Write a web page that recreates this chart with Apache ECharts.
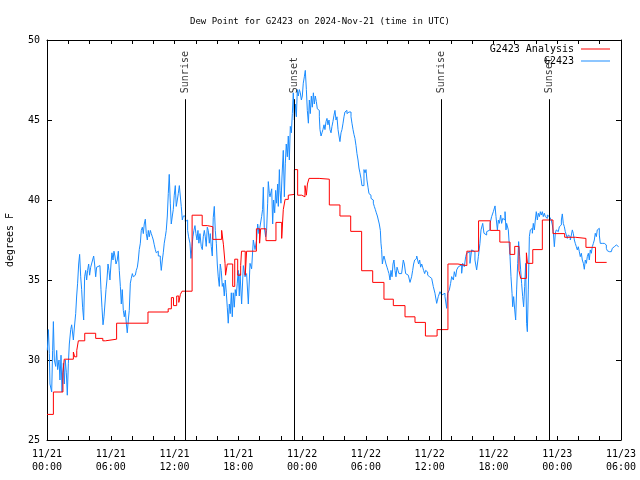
<!DOCTYPE html>
<html>
<head>
<meta charset="utf-8">
<script src="https://cdn.jsdelivr.net/npm/echarts@6/dist/echarts.min.js"></script>
<style>html,body{margin:0;padding:0;background:#fff}#c{width:640px;height:480px}</style>
</head>
<body>
<div id="c"></div>
<script>
// ---- data (hours since 2024-11-21 00:00 UTC, degrees F) ----
const titleText = 'Dew Point for G2423 on 2024-Nov-21 (time in UTC)';
const analysisName = 'G2423 Analysis';
const stationName = 'G2423';
const xTickHours = [0, 6, 12, 18, 24, 30, 36, 42, 48, 54];
const xTickLabels = ['11/21\n00:00','11/21\n06:00','11/21\n12:00','11/21\n18:00','11/22\n00:00','11/22\n06:00','11/22\n12:00','11/22\n18:00','11/23\n00:00','11/23\n06:00'];
const yTicks = [25, 30, 35, 40, 45, 50];
const sunTimes = [13.05, 23.27, 37.1, 47.26];
const sunLabels = ['Sunrise', 'Sunset', 'Sunrise', 'Sunset'];
const sunLineTop = 46.3;

const analysisPoints = [[0,26.6],[0.6,28.0],[1.5,29.2],[1.62,30.05],[2.48,30.5],[2.6,30.2],[2.8,30.6],[2.95,31.2],[3.55,31.67],[4.58,31.35],[5.25,31.2],[5.5,31.3],[6.55,32.3],[9.5,33.0],[11.4,33.2],[11.7,33.9],[11.9,33.4],[12.2,34.0],[12.4,33.6],[12.55,34.1],[12.7,34.3],[13.65,39.05],[14.6,38.4],[15.08,38.33],[15.6,37.54],[16.43,38.1],[16.6,37.2],[16.75,36.04],[16.8,35.3],[16.96,36.0],[17.47,34.6],[17.66,36.3],[17.94,35.3],[18.22,35.9],[18.3,36.8],[18.65,35.3],[18.78,36.8],[19.7,38.2],[20.0,37.3],[20.1,38.2],[20.6,37.46],[21.54,38.6],[22.08,37.6],[22.23,39.4],[22.4,40.04],[22.7,40.3],[22.86,40.35],[23.27,41.9],[23.58,40.3],[23.96,40.2],[24.27,40.9],[24.4,40.3],[24.5,41.0],[24.65,41.35],[25.6,41.3],[26.56,39.69],[27.56,39.0],[28.57,38.04],[29.6,35.58],[30.64,34.85],[31.7,33.8],[32.58,33.4],[33.68,32.7],[34.62,32.35],[35.6,31.5],[36.7,31.9],[37.72,36.0],[38.66,35.9],[39.5,36.8],[40.6,38.7],[41.7,38.1],[42.6,37.37],[43.56,36.6],[44.0,37.1],[44.4,35.6],[44.56,35.1],[45.1,36.7],[45.2,36.04],[45.7,36.9],[46.6,38.75],[47.6,37.9],[48.7,37.67],[49.7,37.6],[50.7,37.04],[51.6,36.1],[52.65,36.1]];

const stationPoints = [[0.03,30.6],[0.13,31.9],[0.22,30.4],[0.28,28.5],[0.44,28.0],[0.53,30.6],[0.6,32.4],[0.69,30.0],[0.82,29.6],[0.91,30.6],[1.0,29.4],[1.13,30.0],[1.22,28.75],[1.32,30.3],[1.41,28.0],[1.54,29.8],[1.63,28.5],[1.72,30.0],[1.82,29.2],[1.91,27.8],[2.01,29.8],[2.1,31.0],[2.23,31.9],[2.32,32.2],[2.48,31.25],[2.57,32.0],[2.7,32.9],[2.79,34.0],[2.88,34.8],[2.98,36.0],[3.07,36.6],[3.17,35.2],[3.26,34.4],[3.35,33.3],[3.45,32.5],[3.54,35.2],[3.64,35.6],[3.73,35.0],[3.82,35.6],[3.92,36.0],[4.01,35.3],[4.11,35.8],[4.2,35.8],[4.29,36.25],[4.39,36.5],[4.48,36.0],[4.58,35.2],[4.67,35.8],[4.83,35.9],[4.98,35.8],[5.08,34.4],[5.17,33.3],[5.27,32.2],[5.36,32.7],[5.45,33.5],[5.55,34.4],[5.64,35.0],[5.74,36.0],[5.83,35.6],[5.92,35.0],[6.02,36.0],[6.11,36.7],[6.21,36.25],[6.3,36.8],[6.39,36.5],[6.49,36.0],[6.61,36.25],[6.71,36.8],[6.8,35.6],[6.9,34.6],[6.99,33.5],[7.08,34.4],[7.18,33.1],[7.27,32.7],[7.37,33.1],[7.46,32.3],[7.55,31.7],[7.65,32.5],[7.74,33.1],[7.84,34.8],[7.93,35.1],[8.03,35.4],[8.12,35.2],[8.21,35.3],[8.31,35.2],[8.4,35.6],[8.5,35.8],[8.59,36.25],[8.68,36.9],[8.78,37.3],[8.87,38.1],[8.97,38.3],[9.06,37.9],[9.15,38.5],[9.25,38.8],[9.34,37.9],[9.44,37.5],[9.53,38.1],[9.62,37.7],[9.72,38.1],[9.81,37.9],[9.91,37.7],[10.0,37.5],[10.09,37.2],[10.19,36.9],[10.28,36.7],[10.38,36.8],[10.47,36.5],[10.56,36.5],[10.66,36.25],[10.75,35.6],[10.85,36.25],[10.94,36.7],[11.03,37.3],[11.13,37.7],[11.22,38.1],[11.32,39.0],[11.41,40.4],[11.5,41.6],[11.6,39.8],[11.69,38.5],[11.79,39.0],[11.88,39.4],[11.97,40.3],[12.07,40.9],[12.16,39.6],[12.26,40.0],[12.35,40.4],[12.45,40.9],[12.54,40.8],[12.63,39.6],[12.73,38.75],[12.82,39.0],[12.92,39.0],[13.01,38.65],[13.13,38.75],[13.23,38.1],[13.32,37.7],[13.45,37.3],[13.54,36.35],[13.64,37.1],[13.73,37.7],[13.82,38.1],[13.92,38.4],[14.01,37.9],[14.11,37.5],[14.2,38.1],[14.29,37.3],[14.39,37.9],[14.51,37.1],[14.61,36.9],[14.7,37.7],[14.8,38.1],[14.89,37.7],[14.98,37.1],[15.08,38.3],[15.17,38.1],[15.27,37.3],[15.36,37.9],[15.45,37.1],[15.55,36.5],[15.64,38.9],[15.74,39.6],[15.83,38.1],[15.93,37.3],[16.02,36.0],[16.11,35.2],[16.21,34.6],[16.3,36.0],[16.39,35.6],[16.49,34.6],[16.58,34.8],[16.68,34.0],[16.77,35.0],[16.87,34.2],[16.96,33.3],[17.05,32.3],[17.15,33.5],[17.24,32.9],[17.34,34.2],[17.43,32.7],[17.52,34.2],[17.62,33.3],[17.71,34.4],[17.8,34.0],[17.9,34.8],[17.99,35.6],[18.09,34.0],[18.16,35.4],[18.31,33.5],[18.47,35.9],[18.63,35.2],[18.78,35.4],[18.94,33.5],[19.1,36.04],[19.25,35.7],[19.41,37.5],[19.57,36.9],[19.72,37.5],[19.82,38.5],[19.94,37.9],[20.03,38.3],[20.19,38.96],[20.28,39.4],[20.35,40.8],[20.44,38.3],[20.57,37.7],[20.66,38.1],[20.76,39.8],[20.82,41.15],[20.92,40.4],[20.98,40.2],[21.14,40.7],[21.23,38.5],[21.32,40.0],[21.42,39.2],[21.51,40.6],[21.6,39.8],[21.7,41.0],[21.76,39.6],[21.86,41.9],[21.92,40.6],[22.01,39.8],[22.11,41.5],[22.23,43.1],[22.33,40.2],[22.42,42.3],[22.51,43.5],[22.61,42.7],[22.7,44.0],[22.8,42.5],[22.89,44.6],[22.99,44.2],[23.08,45.4],[23.17,46.7],[23.27,45.0],[23.36,46.0],[23.46,45.2],[23.55,46.9],[23.64,46.5],[23.74,46.9],[23.83,46.7],[23.93,46.25],[24.02,46.5],[24.11,47.3],[24.21,47.7],[24.3,48.1],[24.4,46.9],[24.49,45.6],[24.59,44.8],[24.68,46.25],[24.77,45.4],[24.87,46.5],[24.96,45.8],[25.06,46.7],[25.15,46.0],[25.24,46.5],[25.34,46.15],[25.43,45.7],[25.53,45.6],[25.62,45.2],[25.68,44.4],[25.78,44.0],[25.87,44.2],[25.96,44.4],[26.06,44.7],[26.15,44.4],[26.25,44.9],[26.34,45.1],[26.43,44.7],[26.53,45.0],[26.62,44.4],[26.72,44.2],[26.81,44.6],[26.9,44.9],[27.0,45.3],[27.09,45.6],[27.19,45.0],[27.28,45.2],[27.38,44.4],[27.47,44.0],[27.56,43.65],[27.66,44.2],[27.75,44.4],[27.85,44.8],[27.94,45.2],[28.03,45.5],[28.13,45.6],[28.22,45.4],[28.32,45.5],[28.41,45.6],[28.5,45.5],[28.6,45.2],[28.69,44.8],[28.79,44.4],[28.88,44.1],[28.97,43.85],[29.07,43.4],[29.16,42.9],[29.26,42.5],[29.35,42.0],[29.44,41.7],[29.54,41.35],[29.63,40.9],[29.73,40.9],[29.82,41.9],[29.92,41.7],[30.01,41.9],[30.1,41.25],[30.2,40.8],[30.29,40.4],[30.39,40.3],[30.48,40.1],[30.57,40.0],[30.7,39.8],[30.79,39.6],[30.89,39.4],[30.98,39.2],[31.08,39.0],[31.17,38.75],[31.26,38.5],[31.36,38.1],[31.42,37.3],[31.48,36.9],[31.55,36.0],[31.61,36.25],[31.7,36.5],[31.8,36.25],[31.89,36.0],[31.99,35.8],[32.08,35.6],[32.17,35.4],[32.27,35.0],[32.36,35.6],[32.46,35.2],[32.55,36.0],[32.64,36.25],[32.74,35.6],[32.83,35.2],[32.93,35.8],[33.02,35.6],[33.11,35.4],[33.21,35.4],[33.36,35.4],[33.52,36.25],[33.62,36.0],[33.74,35.4],[33.83,35.3],[33.99,35.2],[34.15,34.85],[34.3,35.2],[34.4,35.6],[34.49,36.0],[34.59,36.25],[34.68,36.35],[34.78,36.5],[34.87,36.25],[34.96,36.0],[35.06,36.25],[35.15,35.8],[35.25,36.0],[35.34,35.8],[35.43,35.6],[35.53,35.4],[35.62,35.6],[35.72,35.5],[35.81,35.3],[35.9,35.2],[36.0,35.1],[36.19,35.0],[36.34,34.6],[36.5,34.17],[36.66,33.54],[36.81,33.96],[36.97,34.27],[37.13,34.06],[37.28,34.17],[37.44,33.96],[37.6,33.23],[37.69,34.17],[37.85,34.38],[37.97,34.79],[38.07,35.21],[38.23,35.0],[38.32,35.52],[38.45,35.21],[38.54,35.63],[38.7,35.83],[38.85,35.94],[39.01,35.42],[39.1,36.04],[39.26,35.83],[39.39,36.46],[39.48,36.67],[39.64,36.77],[39.79,36.04],[39.95,36.88],[40.11,36.77],[40.26,36.25],[40.42,35.63],[40.58,36.46],[40.73,37.29],[40.83,38.13],[40.99,38.54],[41.11,37.92],[41.2,37.81],[41.36,38.02],[41.52,38.13],[41.68,38.54],[41.83,38.96],[41.99,39.27],[42.15,39.63],[42.24,38.96],[42.37,38.13],[42.46,38.75],[42.55,38.54],[42.68,39.06],[42.77,38.54],[42.87,38.85],[42.99,38.75],[43.09,39.27],[43.18,38.13],[43.24,38.54],[43.4,38.13],[43.56,36.46],[43.65,35.21],[43.75,34.17],[43.81,33.33],[43.9,33.96],[44.0,33.13],[44.09,32.5],[44.18,34.38],[44.28,36.04],[44.37,37.4],[44.47,36.46],[44.56,35.63],[44.65,34.79],[44.75,33.96],[44.84,33.33],[44.94,34.6],[45.03,36.04],[45.12,32.29],[45.19,31.77],[45.28,34.38],[45.38,37.71],[45.47,38.13],[45.56,38.23],[45.66,37.92],[45.75,38.54],[45.85,38.13],[45.94,38.75],[46.03,39.27],[46.13,38.75],[46.22,39.17],[46.32,38.96],[46.41,39.27],[46.5,39.06],[46.6,39.27],[46.69,38.96],[46.79,39.17],[46.88,38.96],[46.97,38.85],[47.07,39.06],[47.16,38.96],[47.26,39.06],[47.35,38.85],[47.44,38.75],[47.54,38.44],[47.63,38.02],[47.73,37.08],[47.82,37.92],[47.91,38.13],[48.01,38.02],[48.1,38.13],[48.2,38.33],[48.29,38.44],[48.39,38.75],[48.48,39.13],[48.57,38.54],[48.67,38.33],[48.76,38.02],[48.86,37.81],[48.95,37.6],[49.04,37.81],[49.14,37.71],[49.23,37.5],[49.33,37.81],[49.42,38.13],[49.51,37.92],[49.61,37.5],[49.7,37.29],[49.8,37.08],[49.89,36.88],[49.98,37.08],[50.08,36.77],[50.17,36.46],[50.27,36.67],[50.36,36.25],[50.46,36.04],[50.55,35.67],[50.64,36.25],[50.74,36.04],[50.83,36.46],[50.93,36.67],[51.02,36.25],[51.11,36.88],[51.21,36.67],[51.3,37.08],[51.4,37.29],[51.49,37.5],[51.58,37.92],[51.68,37.71],[51.77,38.13],[51.87,38.23],[51.96,37.81],[52.05,37.29],[52.15,37.29],[52.24,37.29],[52.34,37.29],[52.43,37.29],[52.52,37.19],[52.62,36.98],[52.71,36.83],[52.81,36.77],[52.9,36.77],[52.99,36.77],[53.09,36.83],[53.18,36.98],[53.28,37.08],[53.37,37.13],[53.47,37.19],[53.56,37.13],[53.65,37.08],[53.78,37.08]];

// ---- styling ----
const FONT = 'DejaVu Sans Mono';
const RED = '#ff0000';
const BLUE = '#1a8cff';
const axisCommon = {
  type: 'value', min: 0, max: 54, interval: 2,
  axisLine: { show: true, onZero: false, lineStyle: { color: '#000', width: 1 } },
  axisTick: { show: true, inside: true, length: 4, lineStyle: { color: '#000' } },
  splitLine: { show: false }
};
const yCommon = {
  type: 'value', min: 25, max: 50, interval: 5,
  axisLine: { show: true, onZero: false, lineStyle: { color: '#000', width: 1 } },
  axisTick: { show: true, inside: true, length: 5, lineStyle: { color: '#000' } },
  splitLine: { show: false }
};
const legendCommon = {
  orient: 'vertical', right: 30, align: 'right', padding: 0,
  icon: 'rect', itemWidth: 29, itemHeight: 1,
  textStyle: { fontFamily: FONT, fontSize: 10, color: '#000', padding: [0, 2, 0, 0] }
};

const chart = echarts.init(document.getElementById('c'), null, { renderer: 'canvas' });
chart.setOption({
  animation: false,
  backgroundColor: '#fff',
  textStyle: { fontFamily: FONT },
  title: {
    text: titleText, left: 'center', top: 12,
    textStyle: { fontFamily: FONT, fontSize: 9, fontWeight: 'normal', color: '#000' }
  },
  grid: { left: 47, right: 19, top: 40, bottom: 40, containLabel: false, outerBoundsMode: 'none' },
  legend: [
    Object.assign({}, legendCommon, { data: [analysisName], top: 44 }),
    Object.assign({}, legendCommon, { data: [stationName], top: 56 })
  ],
  xAxis: [
    Object.assign({}, axisCommon, {
      position: 'bottom',
      axisLabel: {
        show: true, margin: 8, color: '#000', fontFamily: FONT, fontSize: 10, lineHeight: 13,
        formatter: function (v) { const i = xTickHours.indexOf(v); return i >= 0 ? xTickLabels[i] : ''; }
      }
    }),
    Object.assign({}, axisCommon, { position: 'top', axisLabel: { show: false } })
  ],
  yAxis: [
    Object.assign({}, yCommon, {
      position: 'left',
      name: 'degrees F', nameLocation: 'middle', nameGap: 32, nameRotate: 90,
      nameTextStyle: { fontFamily: FONT, fontSize: 10, color: '#000' },
      axisLabel: { show: true, margin: 7, color: '#000', fontFamily: FONT, fontSize: 10,
        formatter: function (v) { return yTicks.indexOf(v) >= 0 ? String(v) : ''; } }
    }),
    Object.assign({}, yCommon, { position: 'right', axisLabel: { show: false } })
  ],
  series: [
    {
      name: analysisName, type: 'line', step: 'end', data: analysisPoints,
      showSymbol: false, symbol: 'none', lineStyle: { color: RED, width: 1 }, itemStyle: { color: RED },
      z: 3
    },
    {
      name: stationName, type: 'line', step: 'end', data: stationPoints,
      showSymbol: false, symbol: 'none', lineStyle: { color: BLUE, width: 1 }, itemStyle: { color: BLUE },
      z: 2
    },
    {
      name: 'sun', type: 'scatter', symbolSize: 0, silent: true, z: 4,
      data: sunTimes.map((t, i) => ({ value: [t, sunLineTop], name: sunLabels[i] })),
      label: {
        show: true, position: 'top', distance: 6, rotate: 90, align: 'left', verticalAlign: 'middle',
        formatter: p => p.name, color: '#000', fontFamily: FONT, fontSize: 10
      },
      markLine: {
        silent: true, symbol: 'none', animation: false,
        lineStyle: { color: '#000', width: 1, type: 'solid' },
        label: { show: false },
        data: sunTimes.map(t => [{ coord: [t, 25] }, { coord: [t, sunLineTop] }])
      }
    }
  ]
});
</script>
</body>
</html>
